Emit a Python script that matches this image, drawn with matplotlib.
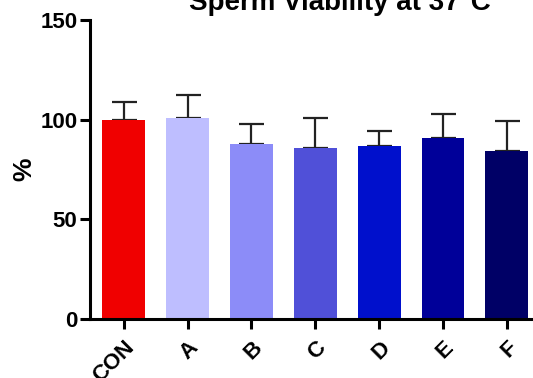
import matplotlib
matplotlib.use('Agg')
import matplotlib.pyplot as plt
import numpy as np

plt.rcParams['font.family'] = ['Liberation Sans', 'DejaVu Sans']
plt.rcParams['font.weight'] = 'bold'

groups = ['CON', 'A', 'B', 'C', 'D', 'E', 'F']
means = [100, 101, 87.7, 85.8, 87, 91, 84.3]
err_up = [8.7, 11.4, 10.1, 15.2, 7.3, 11.7, 15.0]
colors = ['#F00000', '#BEBEFF', '#8C8CF8', '#5050D8', '#0010CC', '#000099', '#000066']

fig = plt.figure(figsize=(5.33, 3.78), dpi=100)
ax = fig.add_axes([90/533, 1 - 319/378, 443/533, 299/378])

x = np.arange(len(groups))
ax.bar(x, means, width=0.67, color=colors, zorder=2)
ax.errorbar(x, means, yerr=[np.zeros(len(means)), err_up], fmt='none',
            ecolor='#222222', elinewidth=1.6, capsize=9, capthick=1.6, zorder=1)

ax.set_xlim(-0.53, 6.41)
ax.set_ylim(0, 150)
ax.set_yticks([0, 50, 100, 150])
ax.set_xticks(x)
ax.set_xticklabels(groups, rotation=45, ha='right', rotation_mode='anchor',
                   fontsize=16, fontweight='bold')
ax.tick_params(axis='y', labelsize=16, width=2.2, length=7, pad=2)
ax.tick_params(axis='x', width=2.2, length=7, pad=6)
for lab in ax.get_yticklabels():
    lab.set_fontweight('bold')
ax.set_ylabel('%', fontsize=19, fontweight='bold', labelpad=3)

for s in ['top', 'right']:
    ax.spines[s].set_visible(False)
for s in ['left', 'bottom']:
    ax.spines[s].set_linewidth(2.2)

fig.text(340/533, 1 - 10/378, 'Sperm Viability at 37°C', ha='center',
         va='baseline', fontsize=20, fontweight='bold')

fig.savefig('out.png', dpi=100)
